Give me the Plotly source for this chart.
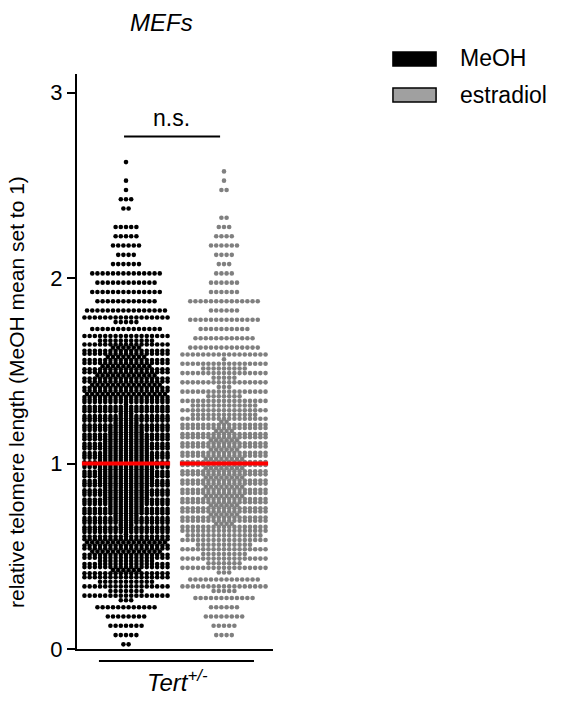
import plotly.graph_objects as go

# ---------------- data ----------------
BIN_WIDTH = 0.05
bin_start = [0.00, 0.05, 0.10, 0.15, 0.20, 0.25, 0.30, 0.35, 0.40, 0.45,
             0.50, 0.55, 0.60, 0.65, 0.70, 0.75, 0.80, 0.85, 0.90, 0.95,
             1.00, 1.05, 1.10, 1.15, 1.20, 1.25, 1.30, 1.35, 1.40, 1.45,
             1.50, 1.55, 1.60, 1.65, 1.70, 1.75, 1.80, 1.85, 1.90, 1.95,
             2.00, 2.05, 2.10, 2.15, 2.20, 2.25, 2.30, 2.35, 2.40, 2.45,
             2.50, 2.55, 2.60]

meoh_counts = [2, 5, 7, 8, 12, 20, 24, 28, 40, 45,
               48, 50, 52, 54, 56, 58, 60, 60, 62, 62,
               62, 60, 60, 58, 56, 54, 52, 50, 48, 46,
               44, 42, 40, 28, 14, 22, 16, 12, 14, 12,
               14, 6, 4, 6, 5, 5, 0, 2, 3, 1,
               1, 0, 1]

estradiol_counts = [0, 4, 5, 8, 6, 12, 22, 14, 20, 24,
                    26, 28, 32, 38, 40, 40, 42, 42, 42, 42,
                    42, 40, 40, 38, 36, 30, 30, 24, 20, 22,
                    26, 18, 14, 12, 10, 14, 6, 14, 6, 6,
                    4, 3, 4, 6, 4, 3, 2, 0, 0, 2,
                    1, 1, 0]

group_names = ["MeOH", "estradiol"]
group_pos = [0, 1]
group_means = [1.0, 1.0]
y_ticks = [0, 1, 2, 3]

# ---------------- styles ----------------
FONT = "Arial, Liberation Sans, Helvetica, sans-serif"
dot_colors = ["#000000", "#808080"]
legend_fill = ["#000000", "#a0a0a0"]


def swarm(counts, center, cap=17, dx=0.053):
    xs, ys = [], []
    for lo, n in zip(bin_start, counts):
        if n == 0:
            continue
        full, rem = divmod(n, cap)
        rows = [cap] * full
        if rem:
            rows.insert(len(rows) // 2, rem)
        r = len(rows)
        for j, k in enumerate(rows):
            y = lo + (j + 0.5) * BIN_WIDTH / r
            for i in range(k):
                xs.append(center + (i - (k - 1) / 2) * dx)
                ys.append(y)
    return xs, ys


fig = go.Figure()
for name, counts, pos, col in zip(group_names, [meoh_counts, estradiol_counts],
                                  group_pos, dot_colors):
    xs, ys = swarm(counts, pos)
    fig.add_trace(go.Scatter(x=xs, y=ys, mode="markers", name=name,
                             marker=dict(size=4.6, color=col, line=dict(width=0)),
                             hoverinfo="skip"))

for pos, m in zip(group_pos, group_means):
    fig.add_trace(go.Scatter(x=[pos - 0.45, pos + 0.45], y=[m, m], mode="lines",
                             line=dict(color="#ff0000", width=4), hoverinfo="skip"))

fig.update_layout(
    width=563, height=701,
    margin=dict(l=77, r=290, t=74, b=52),
    plot_bgcolor="white", paper_bgcolor="white",
    showlegend=False,
    font=dict(family=FONT, color="black"),
    xaxis=dict(range=[-0.5, 1.5], showline=True, linecolor="black", linewidth=2,
               showticklabels=False, ticks="", showgrid=False, zeroline=False),
    yaxis=dict(range=[0, 3.1], tickvals=y_ticks, ticktext=[str(t) for t in y_ticks],
               ticks="outside", ticklen=8, tickwidth=2, tickcolor="black",
               showline=True, linecolor="black", linewidth=2,
               showgrid=False, zeroline=False, tickfont=dict(size=22, family=FONT)),
)

shapes = [
    # significance bar
    dict(type="line", xref="x", yref="y", x0=group_pos[0] - 0.02, x1=group_pos[1] - 0.04,
         y0=2.763, y1=2.763, line=dict(color="black", width=2)),
    # group bracket below axis
    dict(type="line", xref="paper", yref="paper", x0=0.112, x1=0.903,
         y0=-0.021, y1=-0.021, line=dict(color="black", width=2)),
    # legend boxes
    dict(type="rect", xref="paper", yref="paper", x0=1.612, x1=1.832,
         y0=1.0140, y1=1.0383, fillcolor=legend_fill[0], line=dict(color="black", width=1.5)),
    dict(type="rect", xref="paper", yref="paper", x0=1.612, x1=1.832,
         y0=0.9513, y1=0.9757, fillcolor=legend_fill[1], line=dict(color="black", width=1.5)),
]
fig.update_layout(shapes=shapes)

annotations = [
    dict(text="<i>MEFs</i>", xref="paper", yref="paper", x=0.4286, y=1.0896,
         xanchor="center", yanchor="middle", showarrow=False, font=dict(size=24)),
    dict(text="n.s.", xref="x", yref="y", x=0.469, y=2.865,
         xanchor="center", yanchor="middle", showarrow=False, font=dict(size=23)),
    dict(text="<i>Tert<sup>+/-</sup></i>", xref="paper", yref="paper", x=0.515, y=-0.0557,
         xanchor="center", yanchor="middle", showarrow=False, font=dict(size=24)),
    dict(text="relative telomere length (MeOH mean set to 1)", xref="paper", yref="paper",
         x=-0.306, y=0.447, xanchor="center", yanchor="middle", textangle=-90,
         showarrow=False, font=dict(size=21)),
    dict(text=group_names[0], xref="paper", yref="paper", x=1.944, y=1.0278,
         xanchor="left", yanchor="middle", showarrow=False, font=dict(size=23)),
    dict(text=group_names[1], xref="paper", yref="paper", x=1.944, y=0.9635,
         xanchor="left", yanchor="middle", showarrow=False, font=dict(size=23)),
]
fig.update_layout(annotations=annotations)

fig.write_html("out.html")
